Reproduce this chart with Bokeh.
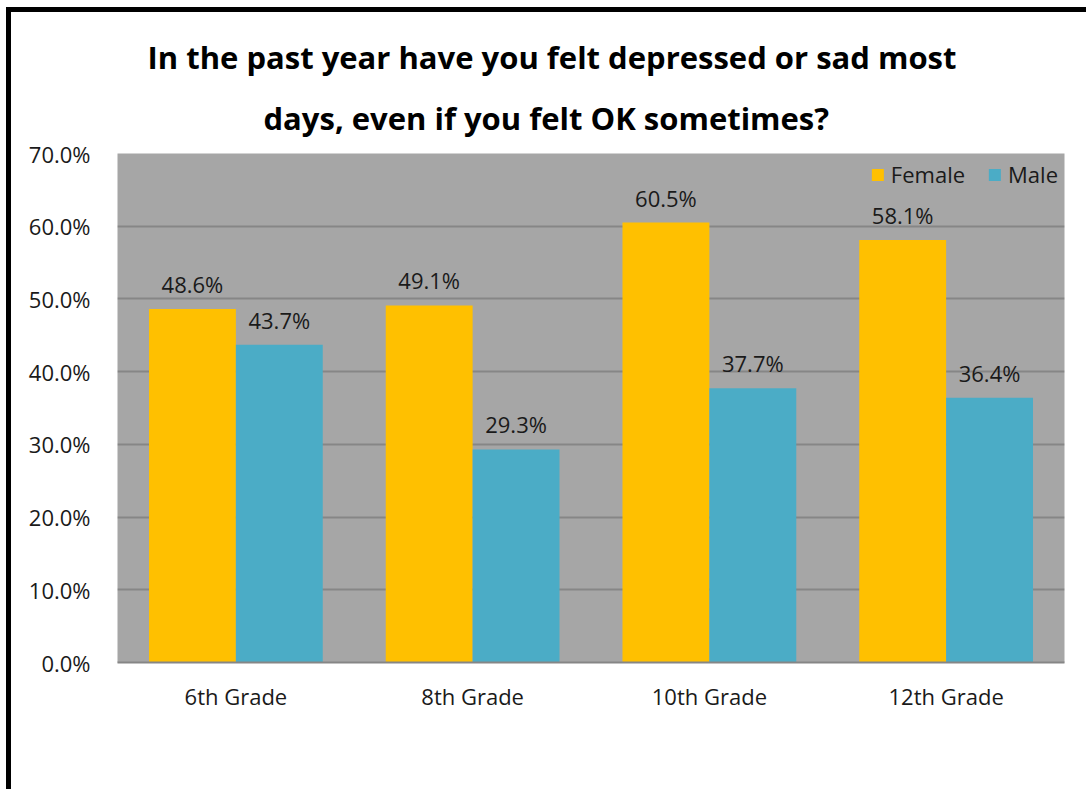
from bokeh.plotting import figure
from bokeh.models import (ColumnDataSource, FactorRange, Range1d, LabelSet, Title,
                          Legend, LegendItem, PrintfTickFormatter, FixedTicker)
from bokeh.transform import dodge
from bokeh.core.properties import value
from bokeh.embed import file_html
from bokeh.resources import INLINE

# ---- data ----
grades = ["6th Grade", "8th Grade", "10th Grade", "12th Grade"]
female = [48.6, 49.1, 60.5, 58.1]
male = [43.7, 29.3, 37.7, 36.4]
y_ticks = [0, 10, 20, 30, 40, 50, 60, 70]
series_names = ["Female", "Male"]
title_lines = ["In the past year have you felt depressed or sad most",
               "days, even if you felt OK sometimes?"]

FEMALE_C = "#FFC000"
MALE_C = "#4BACC6"
FONT = "Open Sans"

src = ColumnDataSource(dict(
    grade=grades,
    female=female,
    male=male,
    female_lbl=[f"{v:.1f}%" for v in female],
    male_lbl=[f"{v:.1f}%" for v in male],
))

p = figure(x_range=FactorRange(*grades, range_padding=0),
           y_range=Range1d(0, 70),
           frame_width=947, frame_height=509,
           min_border_left=106, min_border_top=141,
           min_border_right=22, min_border_bottom=127,
           output_backend="svg", toolbar_location=None,
           background_fill_color="#A6A6A6", border_fill_color="white")
p.outline_line_color = None
p.margin = (7, 0, 0, 6)
p.styles = {"border-left": "5px solid black", "border-top": "5px solid black"}

bw = 0.367
rf = p.vbar(x=dodge("grade", -bw / 2, range=p.x_range), top="female", width=bw,
            source=src, fill_color=FEMALE_C, line_color=None)
rm = p.vbar(x=dodge("grade", bw / 2, range=p.x_range), top="male", width=bw,
            source=src, fill_color=MALE_C, line_color=None)

for col, off in (("female", -bw / 2), ("male", bw / 2)):
    ls = LabelSet(x=dodge("grade", off, range=p.x_range), y=col, text=col + "_lbl",
                  source=src, text_align="center", text_baseline="middle",
                  y_offset=25, text_font=value(FONT), text_font_size=value("22px"),
                  text_color="#1a1a1a")
    p.add_layout(ls)

# axes
p.yaxis.ticker = FixedTicker(ticks=y_ticks)
p.yaxis.formatter = PrintfTickFormatter(format="%.1f%%")
p.yaxis.axis_line_color = None
p.yaxis.major_tick_line_color = None
p.yaxis.minor_tick_line_color = None
p.yaxis.major_tick_out = 0
p.yaxis.major_label_standoff = 27
p.yaxis.major_label_text_font = FONT
p.yaxis.major_label_text_font_size = "22px"
p.yaxis.major_label_text_color = "#1a1a1a"

p.xaxis.axis_line_color = "#868686"
p.xaxis.axis_line_width = 2
p.xaxis.major_tick_line_color = None
p.xaxis.major_tick_out = 0
p.xaxis.major_label_standoff = 18
p.xaxis.major_label_text_font = FONT
p.xaxis.major_label_text_font_size = "22px"
p.xaxis.major_label_text_color = "#1a1a1a"

p.xgrid.grid_line_color = None
p.ygrid.grid_line_color = "#868686"
p.ygrid.grid_line_width = 2
p.ygrid.ticker = FixedTicker(ticks=y_ticks)

# title (two lines, second added first so it sits nearest the plot)
p.add_layout(Title(text=title_lines[1], align="left", offset=146, standoff=29,
                   text_font=FONT, text_font_style="bold", text_font_size="31px",
                   text_line_height=0.9, text_color="black"), "above")
p.add_layout(Title(text=title_lines[0], align="left", offset=30, standoff=6,
                   text_font=FONT, text_font_style="bold", text_font_size="31px",
                   text_line_height=0.9, text_color="black"), "above")
# small blank spacer at the very top
p.add_layout(Title(text=" ", align="left", standoff=0, text_font_size="10px"), "above")

legend = Legend(items=[LegendItem(label=series_names[0], renderers=[rf]),
                       LegendItem(label=series_names[1], renderers=[rm])],
                orientation="horizontal", location="top_right",
                glyph_width=15, glyph_height=15, label_standoff=6, spacing=22,
                padding=0, margin=6, background_fill_alpha=0, border_line_alpha=0,
                label_text_font=FONT, label_text_font_size="22px",
                label_text_color="#1a1a1a")
p.add_layout(legend, "center")

open("out.html", "w").write(file_html(p, INLINE))
